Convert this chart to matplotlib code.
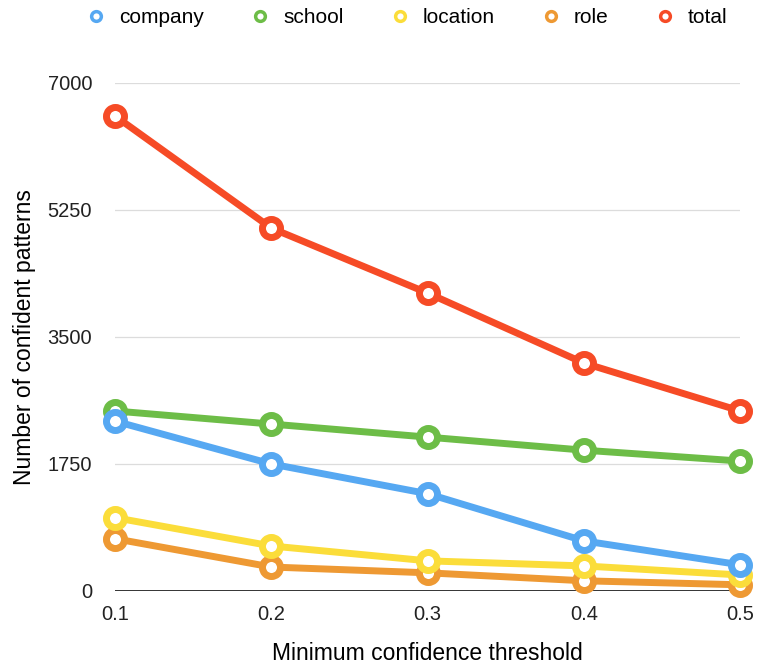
import matplotlib.pyplot as plt
from matplotlib.lines import Line2D

plt.rcParams['font.family'] = ['Liberation Sans', 'DejaVu Sans']

thresholds = [0.1, 0.2, 0.3, 0.4, 0.5]
series_names = ['company', 'school', 'location', 'role', 'total']
company = [2340, 1750, 1340, 690, 360]
school = [2480, 2300, 2120, 1940, 1790]
location = [1010, 620, 415, 345, 220]
role = [720, 330, 250, 140, 85]
total = [6545, 5000, 4105, 3140, 2480]
yticks = [0, 1750, 3500, 5250, 7000]

colors = ['#56a8f2', '#6dbd47', '#fbdd3a', '#ee9933', '#f64b26']
values = [company, school, location, role, total]

fig = plt.figure(figsize=(7.57, 6.64), dpi=100)
ax = fig.add_axes([0.152, 0.110, 0.826, 0.765])

# draw in reverse so company sits on top
for name, vals, c in reversed(list(zip(series_names, values, colors))):
    ax.plot(thresholds, vals, color=c, lw=5, marker='o', ms=13,
            mfc='white', mec=c, mew=5, clip_on=False, zorder=3, label=name)

ax.set_xlim(0.1, 0.5)
ax.set_ylim(0, 7000)
ax.set_xticks(thresholds)
ax.set_xticklabels(['0.1', '0.2', '0.3', '0.4', '0.5'])
ax.set_yticks(yticks)
ax.set_yticklabels([str(v) for v in yticks])
ax.tick_params(length=0, labelsize=14.5, colors='#222222')
ax.tick_params(axis='y', pad=16.5)
ax.tick_params(axis='x', pad=10)
for s in ax.spines.values():
    s.set_visible(False)
ax.grid(axis='y', color='#dcdcdc', lw=0.9)
ax.set_axisbelow(True)
ax.axhline(0, color='#222222', lw=2, zorder=2)

ax.set_xlabel('Minimum confidence threshold', fontsize=16.5, labelpad=13)
ax.set_ylabel('Number of confident patterns', fontsize=16.5, labelpad=8)

handles = [Line2D([], [], ls='none', marker='o', ms=7, mfc='white', mec=c, mew=2.5)
           for c in colors]
fig.legend(handles, series_names, loc='center', bbox_to_anchor=(0.537, 0.973),
           ncol=5, frameon=False, fontsize=15, handletextpad=0.6,
           columnspacing=2.2, handlelength=1.0)

fig.savefig('out.png', dpi=100)
